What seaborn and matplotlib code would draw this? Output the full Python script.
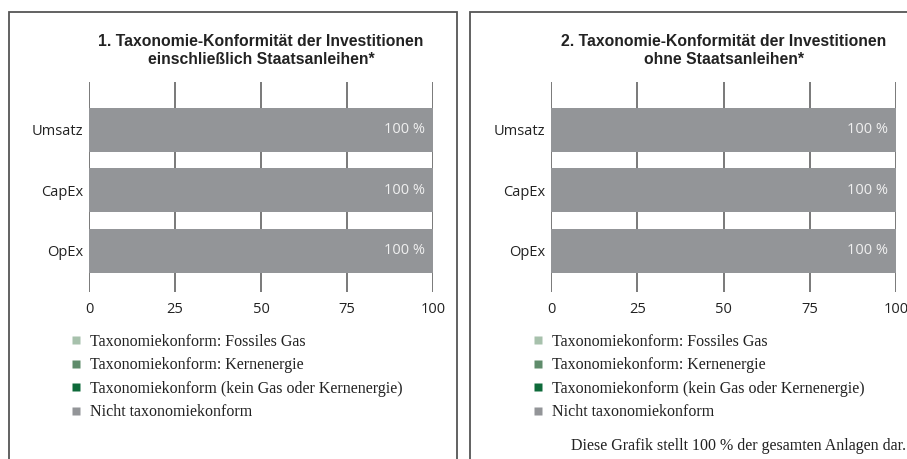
import pandas as pd
import seaborn as sns
import matplotlib.pyplot as plt
from matplotlib.lines import Line2D
from matplotlib.patches import Rectangle

# Daten
categories = ['Umsatz', 'CapEx', 'OpEx']
series_names = [
    'Taxonomiekonform: Fossiles Gas',
    'Taxonomiekonform: Kernenergie',
    'Taxonomiekonform (kein Gas oder Kernenergie)',
    'Nicht taxonomiekonform',
]
series_colors = ['#a7c1ac', '#5f8c6b', '#0e6a3a', '#939598']
# Werte je Grafik (Fossiles Gas, Kernenergie, kein Gas/Kern, nicht konform)
values_mit = [[0, 0, 0], [0, 0, 0], [0, 0, 0], [100, 100, 100]]
values_ohne = [[0, 0, 0], [0, 0, 0], [0, 0, 0], [100, 100, 100]]
titles = [
    '1. Taxonomie-Konformität der Investitionen\neinschließlich Staatsanleihen*',
    '2. Taxonomie-Konformität der Investitionen\nohne Staatsanleihen*',
]
xticks = [0, 25, 50, 75, 100]
footnote = 'Diese Grafik stellt 100 % der gesamten Anlagen dar.'

W, H = 907, 459
SANS = ['Open Sans', 'DejaVu Sans']
SERIF = ['Liberation Serif', 'DejaVu Serif']
TITLE = ['Liberation Sans Narrow', 'Liberation Sans', 'DejaVu Sans']


def px_axes(fig, x0, x1, y0, y1):
    return fig.add_axes([x0 / W, 1 - y1 / H, (x1 - x0) / W, (y1 - y0) / H])


def draw_panel(fig, ax, values, title, px_left, px_right):
    df = pd.DataFrame({'Kategorie': categories})
    for name, vals in zip(series_names, values):
        df[name] = vals
    cum = df[series_names].cumsum(axis=1)
    # gestapelt: größte Summe zuerst
    for name, color in reversed(list(zip(series_names, series_colors))):
        sns.barplot(data=cum.assign(Kategorie=categories), x=name, y='Kategorie',
                    color=color, width=0.73, saturation=1, orient='h', ax=ax,
                    edgecolor='none', linewidth=0)
    ax.set_xlim(0, 100)
    ax.set_ylim(2.68, -0.79)
    ax.set_xticks(xticks)
    ax.set_xticklabels([str(t) for t in xticks], family=SANS, fontsize=10.5, color='#222222')
    ax.set_yticklabels(categories, family=SANS, fontsize=10.5, color='#222222')
    ax.tick_params(length=0)
    ax.tick_params(axis='x', pad=7)
    ax.tick_params(axis='y', pad=4)
    ax.set_xlabel('')
    ax.set_ylabel('')
    for s in ax.spines.values():
        s.set_visible(False)
    ax.set_axisbelow(True)
    ax.grid(axis='x', color='#555555', linewidth=1.1)
    ax.grid(axis='y', visible=False)
    totals = cum[series_names[-1]]
    for i, t in enumerate(totals):
        ax.text(t - 2.4, i, f'{t:.0f} %', ha='right', va='center',
                family=SANS, fontsize=10.5, color='#f0f0f0')
    cx = (px_left + px_right) / 2
    fig.text(cx / W, 1 - 50.5 / H, title, ha='center', va='center', family=TITLE,
             fontsize=11.3, fontweight='bold', color='#222222', linespacing=1.25)


def main():
    sns.set_theme(style='white')
    plt.rcParams['font.family'] = SANS
    fig = plt.figure(figsize=(W / 100, H / 100), dpi=100)

    # Rahmen
    fig.add_artist(Rectangle((9 / W, -0.1), 448 / W, 1.1 - 12 / H, transform=fig.transFigure,
                             fill=False, edgecolor='#555555', linewidth=1.3))
    fig.add_artist(Rectangle((470 / W, -0.1), 460 / W, 1.1 - 12 / H, transform=fig.transFigure,
                             fill=False, edgecolor='#555555', linewidth=1.3))

    ax1 = px_axes(fig, 89, 433, 82, 292)
    ax2 = px_axes(fig, 551, 896, 82, 292)
    draw_panel(fig, ax1, values_mit, titles[0], 89, 433)
    draw_panel(fig, ax2, values_ohne, titles[1], 551, 896)

    handles = [Line2D([], [], marker='s', linestyle='none', markersize=6,
                      markerfacecolor=c, markeredgecolor='none') for c in series_colors]
    for ax in (ax1, ax2):
        leg = ax.legend(handles, series_names, loc='upper left',
                        bbox_to_anchor=(-0.075, -0.17), frameon=False,
                        prop={'family': SERIF, 'size': 11.5}, handlelength=0.8,
                        handletextpad=0.5, labelspacing=0.46, borderaxespad=0)
        for t in leg.get_texts():
            t.set_color('#222222')

    fig.text(906 / W, 1 - 446 / H, footnote, ha='right', va='center',
             family=SERIF, fontsize=11.5, color='#222222')

    fig.savefig('out.png', dpi=100)


if __name__ == '__main__':
    main()
